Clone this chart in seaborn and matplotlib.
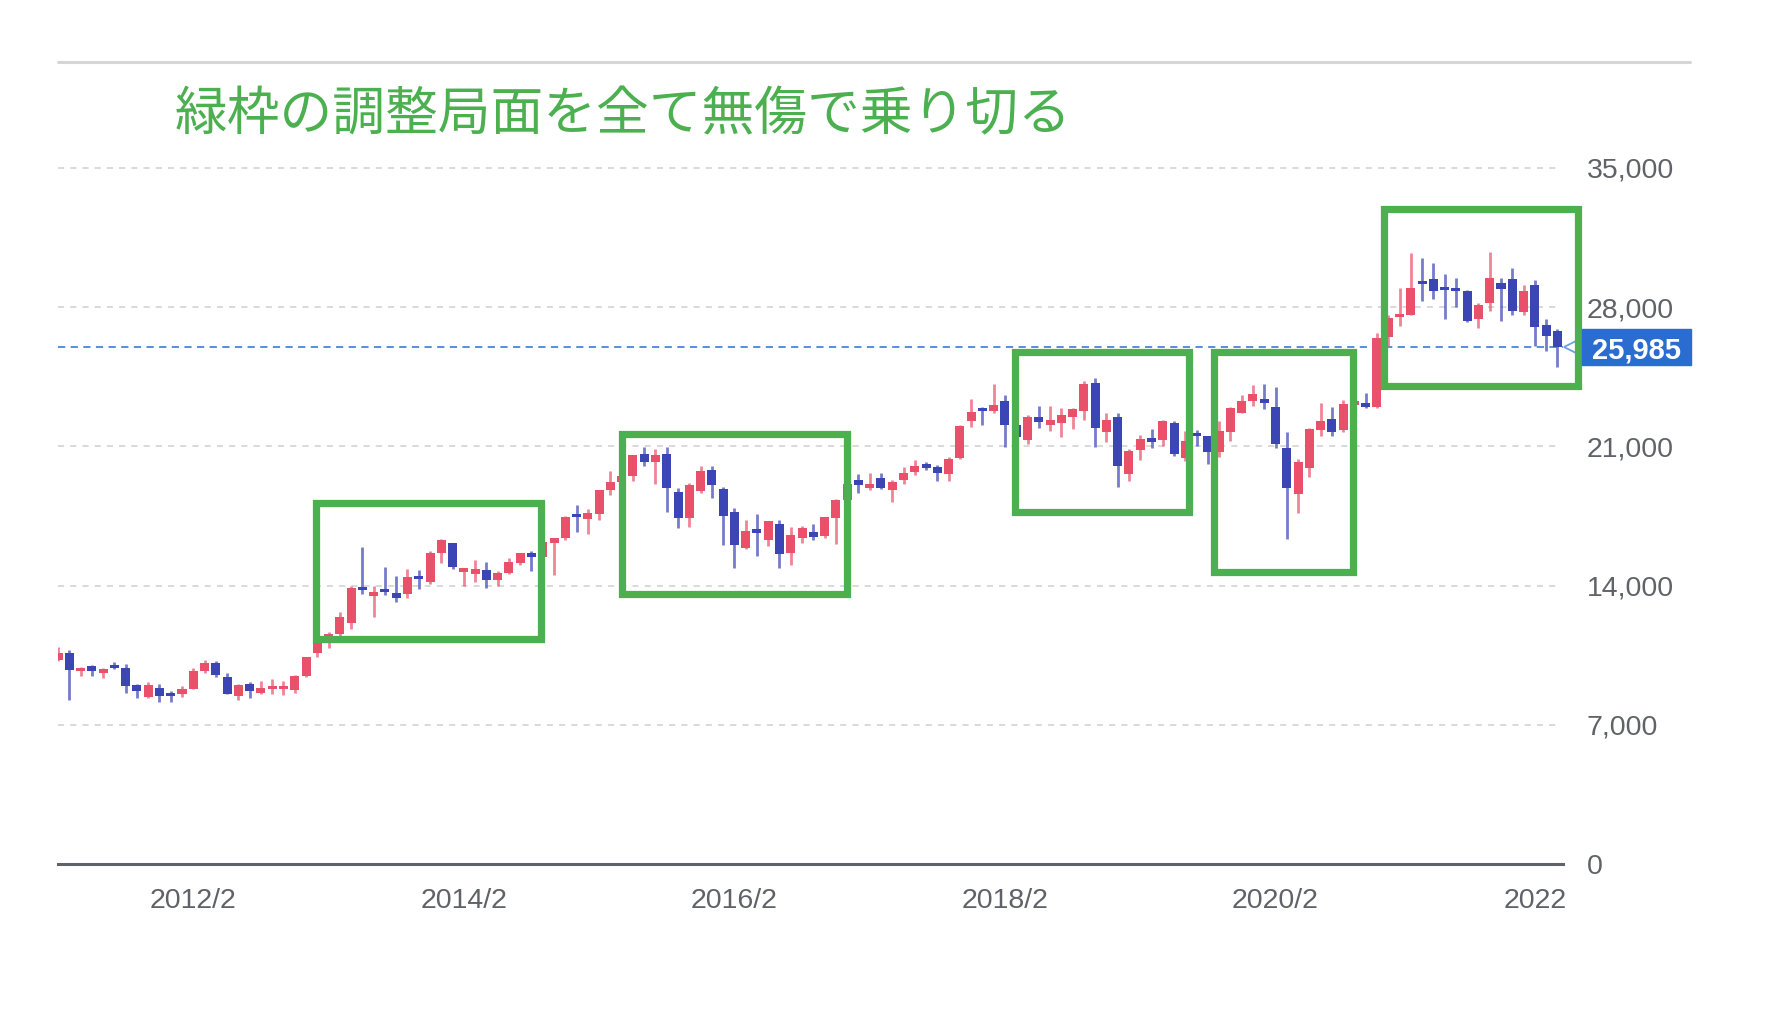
import numpy as np
import pandas as pd
import matplotlib
matplotlib.use("Agg")
import matplotlib.pyplot as plt
from matplotlib.patches import Rectangle
from matplotlib.lines import Line2D
import seaborn as sns

# ---------------- data (monthly candles, 2011/2 .. 2022/3) ----------------
months = pd.period_range("2011-02", "2022-03", freq="M").strftime("%Y/%m").tolist()

opens = [10274, 10610, 9700, 9980, 9600, 9900, 9880, 8990, 8390, 8850, 8597,
         8549, 8780, 9700, 10100, 9400, 8440, 9050, 8600, 8800, 8780, 8750, 9450,
         10600, 11200, 11550, 12100, 13850, 13500, 13800, 13620, 13580, 14500, 14200, 15650,
         16150, 14700, 14600, 14800, 14300, 14650, 15150, 15650, 15450, 16150, 16400, 17600,
         17325, 17600, 18800, 19200, 19500, 20600, 20200, 20600, 18700, 17400, 18750, 19800,
         18850, 17700, 15900, 16750, 16300, 17100, 15650, 16380, 16700, 16500, 17400, 18300,
         19300, 18900, 19400, 18800, 19300, 19700, 20100, 19950, 19600, 20400, 22300, 22900,
         22800, 23300, 22100, 21300, 22500, 22100, 22200, 22500, 22800, 24200, 21700, 22500,
         19600, 20800, 21400, 21300, 22200, 20400, 21600, 21500, 20700, 21700, 22700, 23300,
         23400, 23000, 20900, 18600, 19900, 21800, 22400, 21800, 23100, 23200, 23000, 26500,
         27500, 27600, 29300, 29400, 29000, 28900, 28800, 27400, 28200, 29200, 29400, 27750,
         29100, 27100, 26800]
highs = [10891, 10768, 9900, 10017, 9876, 10137, 10040, 9070, 9152, 9050, 8723,
         8928, 9866, 10255, 10190, 9588, 9044, 9136, 9222, 9288, 9202, 9491, 10433,
         11164, 11662, 12650, 13964, 15942, 13999, 14953, 14466, 14817, 14799, 15727, 16320,
         16164, 14900, 15312, 15164, 14710, 15376, 15646, 15759, 16374, 16321, 17520, 18030,
         17850, 18826, 19778, 20133, 20569, 20953, 20851, 20946, 18932, 19136, 20012, 20012,
         18951, 17905, 17291, 17613, 17251, 17300, 16938, 17000, 17121, 17446, 18370, 19592,
         19615, 19668, 19668, 19289, 19961, 20318, 20223, 20080, 20481, 22100, 23382, 23000,
         24129, 23600, 22502, 22565, 23050, 23011, 22949, 22948, 24306, 24448, 22698, 22698,
         20892, 21556, 21860, 22307, 22278, 21759, 21823, 21540, 22255, 22974, 23608, 24091,
         24115, 23995, 21719, 20365, 21916, 23185, 22977, 23338, 23564, 23672, 26706, 27602,
         28979, 30714, 30485, 30208, 29685, 29480, 28852, 28200, 30795, 29489, 29960, 29121,
         29388, 27400, 26900]
lows = [10218, 8227, 9441, 9460, 9351, 9800, 8619, 8359, 8343, 8135, 8160,
        8378, 8780, 9623, 9388, 8542, 8238, 8328, 8555, 8560, 8488, 8619, 9380,
        10398, 10857, 11418, 11805, 13556, 12415, 13526, 13188, 13367, 13853, 14068, 15139,
        14844, 13995, 14203, 13885, 13964, 14600, 15057, 14753, 15400, 14529, 16300, 16672,
        16592, 17274, 18575, 19034, 19258, 19989, 19116, 17714, 16901, 16930, 18650, 18410,
        16017, 14865, 15857, 15471, 15975, 14864, 15056, 16130, 16290, 16389, 16111, 18055,
        18650, 18805, 18850, 18224, 19100, 19580, 19800, 19280, 19239, 20350, 21972, 22100,
        22700, 20950, 20347, 21100, 21931, 21788, 21462, 21851, 22307, 20972, 21243, 18949,
        19241, 20315, 20911, 21038, 20500, 20289, 21000, 20110, 20460, 21276, 22700, 23044,
        22892, 20916, 16358, 17646, 19448, 21530, 21500, 21710, 22878, 22948, 22948, 26058,
        27056, 27596, 28308, 28420, 27385, 28010, 27272, 26954, 27800, 27293, 27588, 27600,
        26044, 25775, 25000]
closes = [10624, 9755, 9849, 9693, 9816, 9833, 8955, 8700, 8988, 8434, 8455,
          8802, 9723, 10083, 9520, 8542, 9007, 8695, 8840, 8870, 8928, 9446, 10395,
          11139, 11559, 12398, 13861, 13774, 13677, 13668, 13389, 14456, 14328, 15662, 16291,
          14915, 14841, 14828, 14304, 14632, 15162, 15621, 15425, 16174, 16414, 17460, 17451,
          17674, 18798, 19207, 19520, 20563, 20236, 20585, 18890, 17388, 19083, 19747, 19034,
          17518, 16027, 16759, 16666, 17235, 15576, 16569, 16887, 16450, 17425, 18308, 19114,
          19041, 19119, 18909, 19197, 19651, 20033, 19925, 19646, 20356, 22012, 22725, 22765,
          23098, 22068, 21454, 22468, 22202, 22305, 22554, 22865, 24120, 21920, 22351, 20015,
          20773, 21385, 21206, 22259, 20601, 21276, 21522, 20704, 21756, 22927, 23294, 23657,
          23205, 21143, 18917, 20194, 21878, 22288, 21710, 23140, 23185, 22977, 26434, 27444,
          27663, 28966, 29179, 28813, 28860, 28792, 27284, 28090, 29453, 28893, 27822, 28792,
          27002, 26527, 25985]

last_price = 25985
title_text = "緑枠の調整局面を全て無傷で乗り切る"
yticks = [0, 7000, 14000, 21000, 28000, 35000]
xtick_months = ["2012/02", "2014/02", "2016/02", "2018/02", "2020/02", "2022/01"]
xtick_labels = ["2012/2", "2014/2", "2016/2", "2018/2", "2020/2", "2022"]
# highlighted correction phases, in month-index units: (x start, x end, low, high)
boxes = [(22.9, 42.8, 11310, 18150),
         (50.0, 70.0, 13570, 21620),
         (84.9, 100.3, 17700, 25740),
         (102.5, 114.9, 14680, 25740),
         (117.6, 134.8, 24030, 32930)]

# ---------------- styling ----------------
sns.set_theme(style="white")
plt.rcParams['font.family'] = ['Liberation Sans', 'DejaVu Sans']

UP = '#E9506A'
DOWN = '#3C45B4'
GREEN = '#4CAF50'
GRAY_TXT = '#5f6368'

df = pd.DataFrame({"month": months, "open": opens, "high": highs,
                   "low": lows, "close": closes})
df["x"] = np.arange(len(df))
df["up"] = df["close"] >= df["open"]
df["color"] = np.where(df["up"], UP, DOWN)
df["bottom"] = df[["open", "close"]].min(axis=1)
df["height"] = (df["open"] - df["close"]).abs().clip(lower=160)

W, H = 1766, 1014
fig = plt.figure(figsize=(W / 100, H / 100), dpi=100)
ax_left, ax_right = 58 / W, 1563 / W
ax_bot, ax_top = 1 - 864 / H, 1 - 62 / H
ax = fig.add_axes([ax_left, ax_bot, ax_right - ax_left, ax_top - ax_bot])

xmax = 133.5
ymax = 40330
ax.set_xlim(0, xmax)
ax.set_ylim(0, ymax)

# grid lines
for v in yticks[1:]:
    ax.plot([0, xmax - 0.5], [v, v], color='#cfcfcf', lw=1.1,
            dashes=(4, 4), zorder=0)

# wicks
ax.vlines(df["x"], df["low"], df["high"], colors=df["color"], lw=2.0,
          alpha=0.7, zorder=2)
# bodies
ax.bar(df["x"], df["height"], bottom=df["bottom"], width=0.8,
       color=df["color"], linewidth=0, zorder=3)

# last price dashed line
ax.plot([0, xmax], [last_price, last_price], color='#4a86d8', lw=1.3,
        dashes=(4, 3), zorder=1)
ax.plot([xmax + 0.6], [last_price], marker='<', ms=9, mfc='none',
        mec='#6aa0e6', mew=1.3, clip_on=False, zorder=5)

# green boxes
for (x0, x1, lo, hi) in boxes:
    rect = Rectangle((x0, lo), x1 - x0, hi - lo, fill=False, ec=GREEN,
                     lw=5.2, clip_on=False, zorder=6)
    ax.add_patch(rect)

# axes styling
for s in ["top", "left", "right"]:
    ax.spines[s].set_visible(False)
ax.spines["bottom"].set_color('#5f6368')
ax.spines["bottom"].set_linewidth(2.2)
ax.grid(False)

ax.yaxis.tick_right()
ax.set_yticks(yticks)
ax.set_yticklabels([f"{v:,}" for v in yticks])
ax.tick_params(axis='y', length=0, pad=17, labelsize=20.5, labelcolor=GRAY_TXT)

idx = {m: i for i, m in enumerate(months)}
ax.set_xticks([idx[m] for m in xtick_months])
ax.set_xticklabels(xtick_labels)
ax.tick_params(axis='x', length=0, pad=17, labelsize=20.5, labelcolor=GRAY_TXT)

# last price label box
yfig = ax_bot + (ax_top - ax_bot) * last_price / ymax
bh = 36 / H
fig.patches.append(Rectangle((1582 / W, yfig - bh / 2), 109 / W, bh,
                             transform=fig.transFigure, color='#2B6CD0',
                             zorder=5))
fig.text(1636.5 / W, yfig, f"{last_price:,}", color='white', fontsize=21,
         fontweight='bold', ha='center', va='center_baseline', zorder=6)

# top separator line
fig.add_artist(Line2D([58 / W, 1690 / W], [1 - 62 / H, 1 - 62 / H],
                      transform=fig.transFigure, color='#d6d6d6', lw=2.2))

# title
fig.text(175 / W, 1 - 115 / H, title_text, color=GREEN, fontsize=38,
         ha='left', va='center', family=['Noto Sans CJK JP', 'DejaVu Sans'])

fig.savefig("out.png", dpi=100, facecolor='white')
